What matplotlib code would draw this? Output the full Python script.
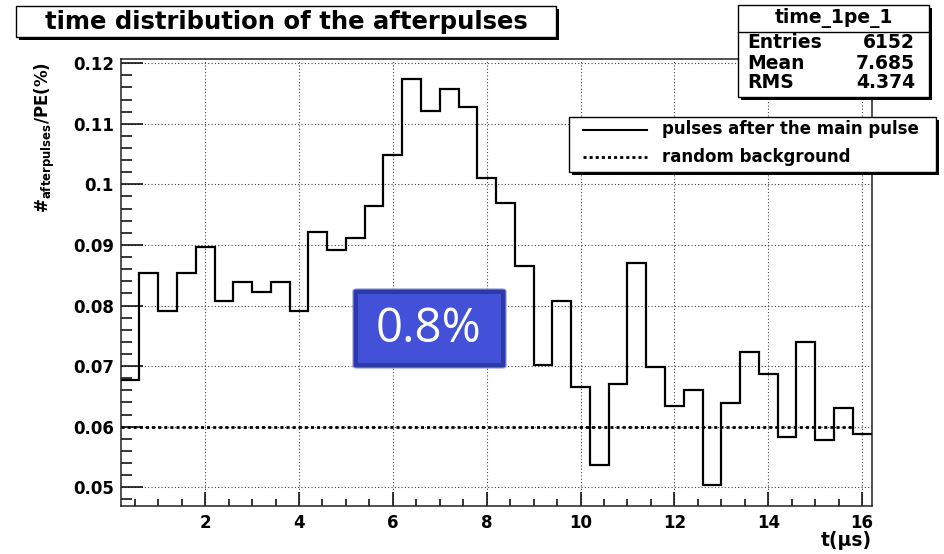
import numpy as np
import matplotlib
matplotlib.use("Agg")
import matplotlib.pyplot as plt
from matplotlib.patches import Rectangle, FancyBboxPatch
from matplotlib.lines import Line2D

# ---------------- data ----------------
t_start = 0.2          # lower edge of first bin (us)
bin_width = 0.4        # bin width (us)
afterpulse_rate = [0.0677, 0.0853, 0.0791, 0.0853, 0.0896, 0.0808, 0.0838, 0.0823, 0.0838, 0.0791,
                   0.0922, 0.0891, 0.0912, 0.0965, 0.1048, 0.1174, 0.1121, 0.1158, 0.1127, 0.1011,
                   0.0969, 0.0866, 0.0702, 0.0807, 0.0666, 0.0536, 0.0671, 0.0870, 0.0698, 0.0634,
                   0.0660, 0.0503, 0.0639, 0.0724, 0.0687, 0.0583, 0.0740, 0.0578, 0.0630, 0.0588]
background_level = 0.06
background_end = 15.8
x_ticks = [2, 4, 6, 8, 10, 12, 14, 16]
x_tick_labels = ["2", "4", "6", "8", "10", "12", "14", "16"]
y_ticks = [0.05, 0.06, 0.07, 0.08, 0.09, 0.10, 0.11, 0.12]
y_tick_labels = ["0.05", "0.06", "0.07", "0.08", "0.09", "0.1", "0.11", "0.12"]
y_range = (0.0469, 0.1207)
title = "time distribution of the afterpulses"
stats_name = "time_1pe_1"
stats_labels = ["Entries", "Mean", "RMS"]
stats_values = ["6152", "7.685", "4.374"]
legend_labels = ["pulses after the main pulse", "random background"]
annotation = "0.8%"
x_label = "t(\u03bcs)"
y_label = r"$\mathbf{\#_{afterpulses}/PE(\%)}$"

# ---------------- figure ----------------
W, H = 944, 554
plt.rcParams['mathtext.fontset'] = 'dejavusans'
fig = plt.figure(figsize=(W / 100, H / 100), dpi=100)
fig.patch.set_facecolor("white")


def fx(x):
    return x / W


def fy(y):
    return 1 - y / H


ax_l, ax_r, ax_t, ax_b = 120.7, 871.5, 59.0, 506.0
ax = fig.add_axes([fx(ax_l), fy(ax_b), (ax_r - ax_l) / W, (ax_b - ax_t) / H])

n = len(afterpulse_rate)
edges = t_start + bin_width * np.arange(n + 1)
ax.stairs(afterpulse_rate, edges, baseline=None, color="black", lw=1.6, zorder=3)
ax.hlines(background_level, t_start, background_end, colors="black", lw=2.0,
          linestyles=(0, (1.1, 1.1)), zorder=3)

ax.set_xlim(edges[0], edges[-1])
ax.set_ylim(*y_range)

ax.set_xticks(x_ticks)
ax.set_xticklabels(x_tick_labels)
ax.set_yticks(y_ticks)
ax.set_yticklabels(y_tick_labels)
ax.set_xticks(np.arange(0.5, 16.01, 0.5), minor=True)
ax.set_yticks(np.arange(0.048, 0.1205, 0.002), minor=True)

for lab in ax.get_xticklabels() + ax.get_yticklabels():
    lab.set_fontweight("bold")
    lab.set_fontsize(12)
    lab.set_family("DejaVu Sans")

ax.tick_params(axis="x", which="major", direction="in", length=10, width=1.1, pad=6)
ax.tick_params(axis="x", which="minor", direction="in", length=5, width=1.1)
ax.tick_params(axis="y", which="major", direction="in", length=16, width=1.1, pad=5)
ax.tick_params(axis="y", which="minor", direction="in", length=8, width=1.1)

ax.grid(True, which="major", color="#444444", lw=0.8, linestyle=(0, (1, 2)))
ax.set_axisbelow(True)
for s in ax.spines.values():
    s.set_linewidth(1.1)
    s.set_color("#222222")

# axis labels
fig.text(fx(ax_r), fy(540), x_label, ha="right", va="center", fontsize=13.5,
         fontweight="bold", family="DejaVu Sans")
fig.text(fx(45), fy(62), y_label, rotation=90, ha="center", va="top", fontsize=12)

SH = 3  # shadow offset px


def box(x0, y0, x1, y1, shadow=True):
    if shadow:
        fig.add_artist(Rectangle((fx(x0 + SH), fy(y1 + SH)), (x1 - x0) / W, (y1 - y0) / H,
                                 transform=fig.transFigure, facecolor="black",
                                 edgecolor="black", lw=0, zorder=5))
    fig.add_artist(Rectangle((fx(x0), fy(y1)), (x1 - x0) / W, (y1 - y0) / H,
                             transform=fig.transFigure, facecolor="white",
                             edgecolor="black", lw=1.0, zorder=6))


# title box
box(16, 6, 556, 37)
fig.text(fx(286), fy(21.5), title, ha="center", va="center", fontsize=17.5,
         fontweight="bold", family="DejaVu Sans", zorder=7)

# stats box
box(738, 5, 929, 97)
fig.add_artist(Line2D([fx(738), fx(929)], [fy(31.7), fy(31.7)], transform=fig.transFigure,
                      color="black", lw=1.0, zorder=7))
fig.text(fx(833.5), fy(17.5), stats_name, ha="center", va="center", fontsize=13.5,
         fontweight="bold", family="DejaVu Sans", zorder=7)
for i, (lab, val) in enumerate(zip(stats_labels, stats_values)):
    yy = [43, 63.5, 83][i]
    fig.text(fx(747), fy(yy), lab, ha="left", va="center", fontsize=13.5,
             fontweight="bold", family="DejaVu Sans", zorder=7)
    fig.text(fx(915), fy(yy), val, ha="right", va="center", fontsize=13.5,
             fontweight="bold", family="DejaVu Sans", zorder=7)

# legend box
box(569, 117, 936, 172)
fig.add_artist(Line2D([fx(583), fx(647)], [fy(129.5), fy(129.5)], transform=fig.transFigure,
                      color="black", lw=1.5, zorder=7))
fig.add_artist(Line2D([fx(583), fx(647)], [fy(157), fy(157)], transform=fig.transFigure,
                      color="black", lw=2.0, linestyle=(0, (1.1, 1.1)), zorder=7))
fig.text(fx(662), fy(129.5), legend_labels[0], ha="left", va="center", fontsize=12,
         fontweight="bold", family="DejaVu Sans", zorder=7)
fig.text(fx(662), fy(157), legend_labels[1], ha="left", va="center", fontsize=12,
         fontweight="bold", family="DejaVu Sans", zorder=7)

# blue annotation box
fig.add_artist(FancyBboxPatch((fx(353), fy(368)), (506 - 353) / W, (368 - 289) / H,
                              boxstyle="round,pad=0,rounding_size=0.004",
                              transform=fig.transFigure, facecolor="#2E39A8",
                              edgecolor="#8A92D6", lw=0.8, zorder=8))
fig.add_artist(Rectangle((fx(358), fy(363)), (501 - 358) / W, (363 - 294) / H,
                         transform=fig.transFigure, facecolor="#4350D8",
                         edgecolor="none", zorder=9))
fig.text(fx(428), fy(329), annotation, ha="center", va="center", fontsize=34,
         color="white", family="Open Sans", zorder=10)

fig.savefig("out.png", dpi=100)
